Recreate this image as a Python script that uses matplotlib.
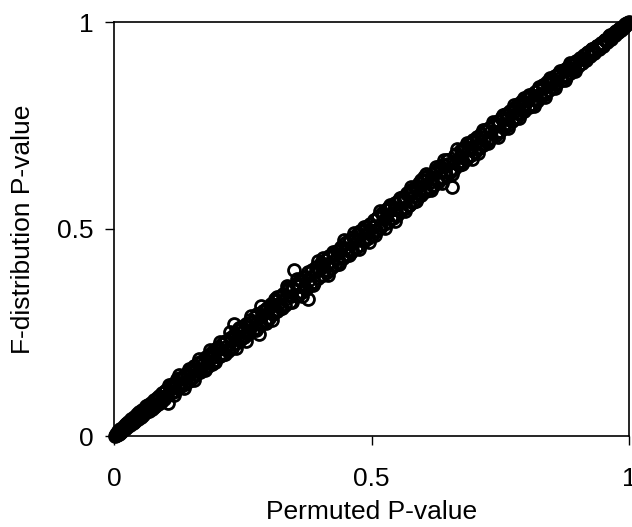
import matplotlib
matplotlib.use("Agg")
import matplotlib.pyplot as plt

plt.rcParams['font.family'] = ['Liberation Sans', 'DejaVu Sans']

# Permuted P-value (x) and F-distribution P-value (y)
permuted_p = [
    0.002, 0.004, 0.005, 0.007, 0.009, 0.011, 0.012, 0.014, 0.016, 0.019,
    0.021, 0.023, 0.026, 0.028, 0.031, 0.033, 0.036, 0.038, 0.041, 0.044,
    0.046, 0.049, 0.052, 0.054, 0.057, 0.060, 0.063, 0.066, 0.068, 0.071,
    0.074, 0.077, 0.080, 0.083, 0.086, 0.088, 0.091, 0.094, 0.098, 0.101,
    0.105, 0.108, 0.111, 0.114, 0.118, 0.121, 0.124, 0.128, 0.131, 0.135,
    0.138, 0.142, 0.145, 0.149, 0.152, 0.156, 0.160, 0.163, 0.167, 0.171,
    0.174, 0.178, 0.182, 0.186, 0.190, 0.193, 0.197, 0.201, 0.205, 0.209,
    0.213, 0.217, 0.221, 0.225, 0.229, 0.233, 0.237, 0.241, 0.245, 0.249,
    0.253, 0.257, 0.261, 0.265, 0.269, 0.273, 0.277, 0.281, 0.285, 0.289,
    0.293, 0.297, 0.301, 0.305, 0.309, 0.313, 0.317, 0.321, 0.325, 0.329,
    0.333, 0.337, 0.341, 0.345, 0.349, 0.353, 0.357, 0.361, 0.365, 0.369,
    0.373, 0.377, 0.381, 0.385, 0.389, 0.393, 0.397, 0.401, 0.405, 0.409,
    0.413, 0.417, 0.421, 0.425, 0.429, 0.433, 0.437, 0.441, 0.445, 0.449,
    0.453, 0.457, 0.461, 0.465, 0.469, 0.473, 0.477, 0.481, 0.485, 0.489,
    0.493, 0.497, 0.501, 0.505, 0.509, 0.513, 0.517, 0.521, 0.525, 0.529,
    0.533, 0.537, 0.541, 0.545, 0.549, 0.553, 0.557, 0.561, 0.565, 0.569,
    0.573, 0.577, 0.581, 0.585, 0.589, 0.593, 0.597, 0.601, 0.605, 0.609,
    0.613, 0.617, 0.621, 0.625, 0.629, 0.633, 0.637, 0.641, 0.645, 0.649,
    0.653, 0.657, 0.661, 0.665, 0.669, 0.673, 0.677, 0.681, 0.685, 0.689,
    0.693, 0.697, 0.701, 0.705, 0.709, 0.713, 0.717, 0.721, 0.725, 0.729,
    0.733, 0.737, 0.741, 0.745, 0.749, 0.753, 0.757, 0.761, 0.765, 0.769,
    0.773, 0.777, 0.781, 0.785, 0.789, 0.793, 0.797, 0.801, 0.805, 0.809,
    0.813, 0.817, 0.821, 0.825, 0.829, 0.833, 0.837, 0.841, 0.845, 0.849,
    0.853, 0.857, 0.861, 0.865, 0.869, 0.873, 0.877, 0.881, 0.885, 0.889,
    0.893, 0.897, 0.901, 0.905, 0.909, 0.913, 0.917, 0.921, 0.925, 0.929,
    0.933, 0.937, 0.941, 0.945, 0.949, 0.953, 0.957, 0.961, 0.965, 0.969,
    0.972, 0.975, 0.978, 0.981, 0.984, 0.987, 0.990, 0.992, 0.994, 0.996,
    0.998, 1.000,
]
fdist_p = [
    0.001, 0.006, 0.002, 0.009, 0.005, 0.008, 0.016, 0.010, 0.013, 0.024,
    0.017, 0.029, 0.022, 0.034, 0.026, 0.040, 0.031, 0.045, 0.036, 0.052,
    0.040, 0.057, 0.046, 0.062, 0.050, 0.068, 0.058, 0.074, 0.060, 0.079,
    0.066, 0.086, 0.072, 0.092, 0.078, 0.097, 0.083, 0.104, 0.090, 0.112,
    0.080, 0.118, 0.103, 0.125, 0.109, 0.131, 0.115, 0.139, 0.121, 0.146,
    0.127, 0.153, 0.134, 0.160, 0.141, 0.169, 0.149, 0.176, 0.154, 0.182,
    0.163, 0.190, 0.170, 0.198, 0.175, 0.205, 0.183, 0.214, 0.193, 0.223,
    0.199, 0.230, 0.206, 0.236, 0.212, 0.270, 0.224, 0.255, 0.232, 0.262,
    0.239, 0.271, 0.246, 0.279, 0.255, 0.288, 0.262, 0.246, 0.270, 0.303,
    0.278, 0.310, 0.286, 0.319, 0.294, 0.327, 0.301, 0.336, 0.309, 0.344,
    0.317, 0.352, 0.324, 0.358, 0.400, 0.367, 0.340, 0.376, 0.349, 0.384,
    0.356, 0.331, 0.365, 0.400, 0.373, 0.409, 0.381, 0.417, 0.389, 0.425,
    0.397, 0.432, 0.405, 0.440, 0.413, 0.448, 0.421, 0.457, 0.430, 0.465,
    0.437, 0.473, 0.445, 0.481, 0.453, 0.490, 0.461, 0.497, 0.470, 0.505,
    0.478, 0.513, 0.486, 0.522, 0.494, 0.530, 0.503, 0.539, 0.511, 0.547,
    0.518, 0.554, 0.526, 0.562, 0.534, 0.571, 0.543, 0.578, 0.551, 0.587,
    0.558, 0.594, 0.566, 0.602, 0.574, 0.611, 0.583, 0.625, 0.591, 0.627,
    0.598, 0.634, 0.606, 0.642, 0.614, 0.651, 0.622, 0.667, 0.631, 0.666,
    0.638, 0.601, 0.646, 0.682, 0.654, 0.690, 0.662, 0.698, 0.671, 0.706,
    0.679, 0.713, 0.687, 0.722, 0.695, 0.730, 0.703, 0.738, 0.712, 0.745,
    0.720, 0.753, 0.728, 0.762, 0.736, 0.770, 0.744, 0.777, 0.752, 0.785,
    0.761, 0.792, 0.769, 0.801, 0.777, 0.809, 0.786, 0.816, 0.794, 0.824,
    0.802, 0.831, 0.810, 0.840, 0.818, 0.847, 0.827, 0.855, 0.835, 0.862,
    0.844, 0.870, 0.852, 0.877, 0.860, 0.885, 0.868, 0.892, 0.876, 0.899,
    0.885, 0.906, 0.893, 0.913, 0.901, 0.921, 0.909, 0.928, 0.917, 0.935,
    0.926, 0.943, 0.934, 0.950, 0.942, 0.957, 0.951, 0.965, 0.959, 0.972,
    0.968, 0.978, 0.975, 0.984, 0.981, 0.989, 0.988, 0.993, 0.992, 0.997,
    0.997, 1.000,
]

# further points of the same cloud
permuted_p_b = [
    0.003, 0.008, 0.013, 0.018, 0.023, 0.028, 0.033, 0.038, 0.043, 0.048,
    0.053, 0.058, 0.063, 0.068, 0.073, 0.078, 0.083, 0.088, 0.093, 0.098,
    0.103, 0.108, 0.113, 0.118, 0.123, 0.128, 0.133, 0.138, 0.143, 0.148,
    0.153, 0.158, 0.163, 0.168, 0.173, 0.178, 0.183, 0.188, 0.193, 0.198,
    0.203, 0.208, 0.213, 0.218, 0.223, 0.228, 0.233, 0.238, 0.243, 0.248,
    0.253, 0.258, 0.263, 0.268, 0.273, 0.278, 0.283, 0.288, 0.293, 0.298,
    0.303, 0.308, 0.313, 0.318, 0.323, 0.328, 0.333, 0.338, 0.343, 0.348,
    0.353, 0.358, 0.363, 0.368, 0.373, 0.378, 0.383, 0.388, 0.393, 0.398,
    0.403, 0.408, 0.413, 0.418, 0.423, 0.428, 0.433, 0.438, 0.443, 0.448,
    0.453, 0.458, 0.463, 0.468, 0.473, 0.478, 0.483, 0.488, 0.493, 0.498,
    0.503, 0.508, 0.513, 0.518, 0.523, 0.528, 0.533, 0.538, 0.543, 0.548,
    0.553, 0.558, 0.563, 0.568, 0.573, 0.578, 0.583, 0.588, 0.593, 0.598,
    0.603, 0.608, 0.613, 0.618, 0.623, 0.628, 0.633, 0.638, 0.643, 0.648,
    0.653, 0.658, 0.663, 0.668, 0.673, 0.678, 0.683, 0.688, 0.693, 0.698,
    0.703, 0.708, 0.713, 0.718, 0.723, 0.728, 0.733, 0.738, 0.743, 0.748,
    0.753, 0.758, 0.763, 0.768, 0.773, 0.778, 0.783, 0.788, 0.793, 0.798,
    0.803, 0.808, 0.813, 0.818, 0.823, 0.828, 0.833, 0.838, 0.843, 0.848,
    0.853, 0.858, 0.863, 0.868, 0.873, 0.878, 0.883, 0.888, 0.893, 0.898,
    0.903, 0.908, 0.913, 0.918, 0.923, 0.928, 0.933, 0.938, 0.943, 0.948,
    0.953, 0.958, 0.963, 0.968, 0.973, 0.978, 0.983, 0.988, 0.993, 0.998,
]
fdist_p_b = [
    0.002, 0.011, 0.014, 0.015, 0.028, 0.028, 0.035, 0.034, 0.044, 0.051,
    0.048, 0.058, 0.072, 0.064, 0.074, 0.070, 0.088, 0.090, 0.092, 0.106,
    0.100, 0.119, 0.115, 0.109, 0.138, 0.127, 0.139, 0.125, 0.147, 0.157,
    0.146, 0.158, 0.176, 0.163, 0.174, 0.167, 0.190, 0.191, 0.191, 0.210,
    0.209, 0.200, 0.227, 0.216, 0.211, 0.233, 0.243, 0.234, 0.260, 0.242,
    0.255, 0.271, 0.253, 0.276, 0.270, 0.294, 0.276, 0.292, 0.304, 0.284,
    0.312, 0.303, 0.331, 0.319, 0.314, 0.340, 0.331, 0.358, 0.337, 0.355,
    0.341, 0.362, 0.378, 0.360, 0.383, 0.377, 0.397, 0.372, 0.399, 0.400,
    0.414, 0.402, 0.416, 0.434, 0.414, 0.436, 0.431, 0.451, 0.432, 0.453,
    0.449, 0.472, 0.450, 0.475, 0.474, 0.495, 0.475, 0.498, 0.490, 0.510,
    0.506, 0.498, 0.528, 0.512, 0.532, 0.527, 0.551, 0.526, 0.549, 0.548,
    0.566, 0.551, 0.567, 0.584, 0.559, 0.586, 0.580, 0.599, 0.584, 0.617,
    0.598, 0.618, 0.614, 0.606, 0.637, 0.620, 0.639, 0.655, 0.641, 0.657,
    0.643, 0.662, 0.678, 0.662, 0.675, 0.690, 0.670, 0.695, 0.692, 0.714,
    0.709, 0.697, 0.722, 0.715, 0.737, 0.721, 0.736, 0.749, 0.735, 0.753,
    0.765, 0.753, 0.765, 0.783, 0.764, 0.785, 0.781, 0.801, 0.787, 0.802,
    0.795, 0.818, 0.814, 0.813, 0.835, 0.825, 0.841, 0.831, 0.854, 0.850,
    0.860, 0.852, 0.872, 0.866, 0.884, 0.871, 0.887, 0.897, 0.889, 0.904,
    0.898, 0.914, 0.911, 0.926, 0.919, 0.935, 0.930, 0.943, 0.945, 0.944,
    0.957, 0.955, 0.968, 0.966, 0.976, 0.977, 0.986, 0.986, 0.994, 0.998,
]

# outer edge points of the cloud
permuted_p_c = [
    0.106, 0.116, 0.126, 0.136, 0.146, 0.156, 0.166, 0.176, 0.186, 0.196,
    0.206, 0.216, 0.226, 0.236, 0.246, 0.256, 0.266, 0.276, 0.286, 0.296,
    0.306, 0.316, 0.326, 0.336, 0.346, 0.356, 0.366, 0.376, 0.386, 0.396,
    0.406, 0.416, 0.426, 0.436, 0.446, 0.456, 0.466, 0.476, 0.486, 0.496,
    0.506, 0.516, 0.526, 0.536, 0.546, 0.556, 0.566, 0.576, 0.586, 0.596,
    0.606, 0.616, 0.626, 0.636, 0.646, 0.656, 0.666, 0.676, 0.686, 0.696,
    0.706, 0.716, 0.726, 0.736, 0.746, 0.756, 0.766, 0.776, 0.786, 0.796,
    0.806, 0.816, 0.826, 0.836, 0.846, 0.856, 0.866, 0.876, 0.886, 0.896,
]
fdist_p_c = [
    0.124, 0.100, 0.147, 0.117, 0.161, 0.136, 0.185, 0.159, 0.208, 0.178,
    0.228, 0.197, 0.252, 0.212, 0.264, 0.229, 0.290, 0.256, 0.314, 0.274,
    0.281, 0.336, 0.308, 0.363, 0.324, 0.380, 0.338, 0.395, 0.365, 0.422,
    0.429, 0.390, 0.445, 0.415, 0.474, 0.438, 0.491, 0.452, 0.506, 0.469,
    0.486, 0.543, 0.502, 0.557, 0.520, 0.575, 0.544, 0.601, 0.567, 0.619,
    0.632, 0.595, 0.650, 0.611, 0.666, 0.633, 0.693, 0.658, 0.708, 0.670,
    0.684, 0.740, 0.707, 0.758, 0.722, 0.776, 0.745, 0.799, 0.768, 0.817,
    0.824, 0.796, 0.843, 0.818, 0.865, 0.840, 0.882, 0.859, 0.900, 0.881,
]

tick_values = [0, 0.5, 1]
tick_labels = ["0", "0.5", "1"]

fig = plt.figure(figsize=(6.32, 5.27), dpi=100)
ax = fig.add_axes([114/632, 1 - 436/527, (629-114)/632, (436-22)/527])

marker_style = dict(linestyle='none', marker='o', markersize=8.6,
                    markerfacecolor='none', markeredgecolor='black',
                    markeredgewidth=2.0, clip_on=False)
ax.plot(permuted_p, fdist_p, **marker_style)
ax.plot(permuted_p_b, fdist_p_b, **marker_style)
ax.plot(permuted_p_c, fdist_p_c, **marker_style)

ax.set_xlim(0, 1)
ax.set_ylim(0, 1)
ax.set_xticks(tick_values)
ax.set_xticklabels(tick_labels)
ax.set_yticks(tick_values)
ax.set_yticklabels(tick_labels)

for s in ax.spines.values():
    s.set_linewidth(1.2)
    s.set_color('black')

ax.tick_params(axis='both', direction='out', length=6.5, width=1.0,
               labelsize=19, colors='black')
ax.tick_params(axis='x', pad=16)
ax.tick_params(axis='y', pad=8)

ax.set_xlabel("Permuted P-value", fontsize=19, labelpad=6)
ax.set_ylabel("F-distribution P-value", fontsize=19, labelpad=16)

fig.savefig("out.png", dpi=100)
